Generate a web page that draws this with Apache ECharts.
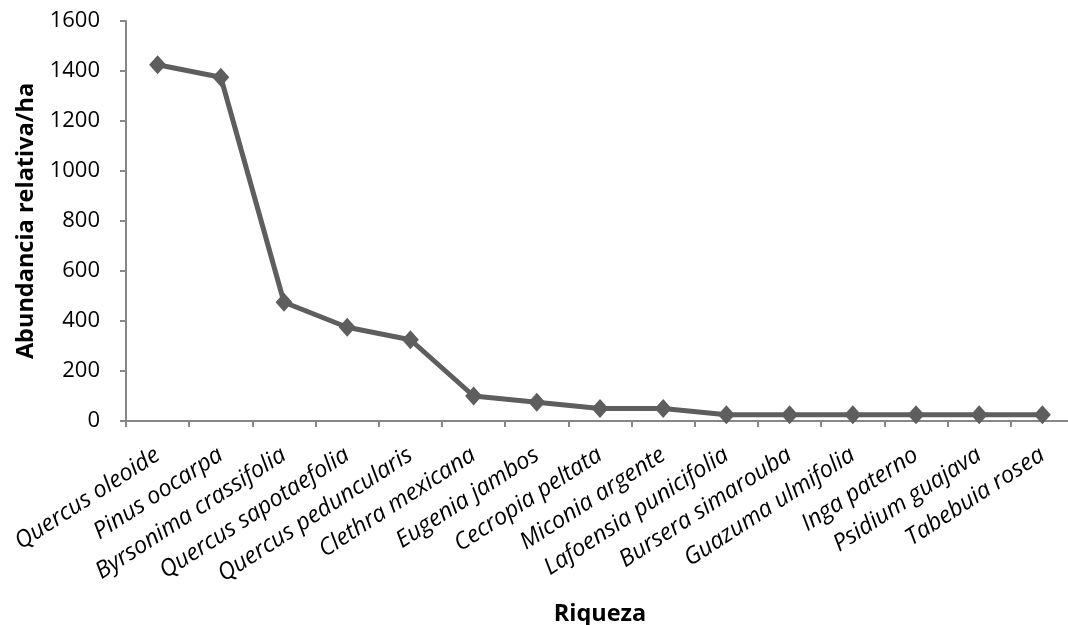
<!DOCTYPE html>
<html>
<head>
<meta charset="utf-8">
<script src="https://cdn.jsdelivr.net/npm/echarts@6/dist/echarts.min.js"></script>
<style>
html,body{margin:0;padding:0;background:#fff;}
#chart{width:1068px;height:625px;}
</style>
</head>
<body>
<div id="chart"></div>
<script>
const categories = ["Quercus oleoide","Pinus oocarpa","Byrsonima crassifolia","Quercus sapotaefolia","Quercus peduncularis","Clethra mexicana","Eugenia jambos","Cecropia peltata","Miconia argente","Lafoensia punicifolia","Bursera simarouba","Guazuma ulmifolia","Inga paterno","Psidium guajava","Tabebuia rosea"];
const abundance = [1425,1375,475,375,325,100,75,50,50,25,25,25,25,25,25];
const yTicks = {min:0, max:1600, interval:200};

const chart = echarts.init(document.getElementById('chart'));
const font = "'Open Sans', 'Noto Sans', sans-serif";
chart.setOption({
  animation:false,
  grid:{left:126, right:-6, top:21, bottom:204, containLabel:false, outerBoundsMode:'none'},
  xAxis:{
    type:'category', data:categories, boundaryGap:true,
    name:'Riqueza', nameLocation:'middle', nameGap:181,
    nameTextStyle:{fontFamily:font, fontWeight:'bold', fontSize:23.5, color:'#000'},
    axisLine:{lineStyle:{color:'#878787', width:2}},
    axisTick:{show:true, alignWithLabel:false, length:6, lineStyle:{color:'#878787', width:2}},
    axisLabel:{interval:0, rotate:33, margin:32, fontFamily:font, fontStyle:'italic', fontSize:23.5, color:'#000'}
  },
  yAxis:{
    type:'value', min:yTicks.min, max:yTicks.max, interval:yTicks.interval,
    name:'Abundancia relativa/ha', nameLocation:'middle', nameGap:88, nameRotate:90,
    nameTextStyle:{fontFamily:font, fontWeight:'bold', fontSize:23.5, color:'#000'},
    axisLine:{show:true, lineStyle:{color:'#878787', width:2}},
    axisTick:{show:true, length:6, lineStyle:{color:'#878787', width:2}},
    splitLine:{show:false},
    axisLabel:{margin:26, fontFamily:font, fontSize:22, color:'#000', formatter:v=>String(v)}
  },
  series:[{
    type:'line', data:abundance,
    symbol:'diamond', symbolSize:[17,19],
    lineStyle:{color:'#5e5e5e', width:5},
    itemStyle:{color:'#5e5e5e'}
  }]
});
</script>
</body>
</html>
